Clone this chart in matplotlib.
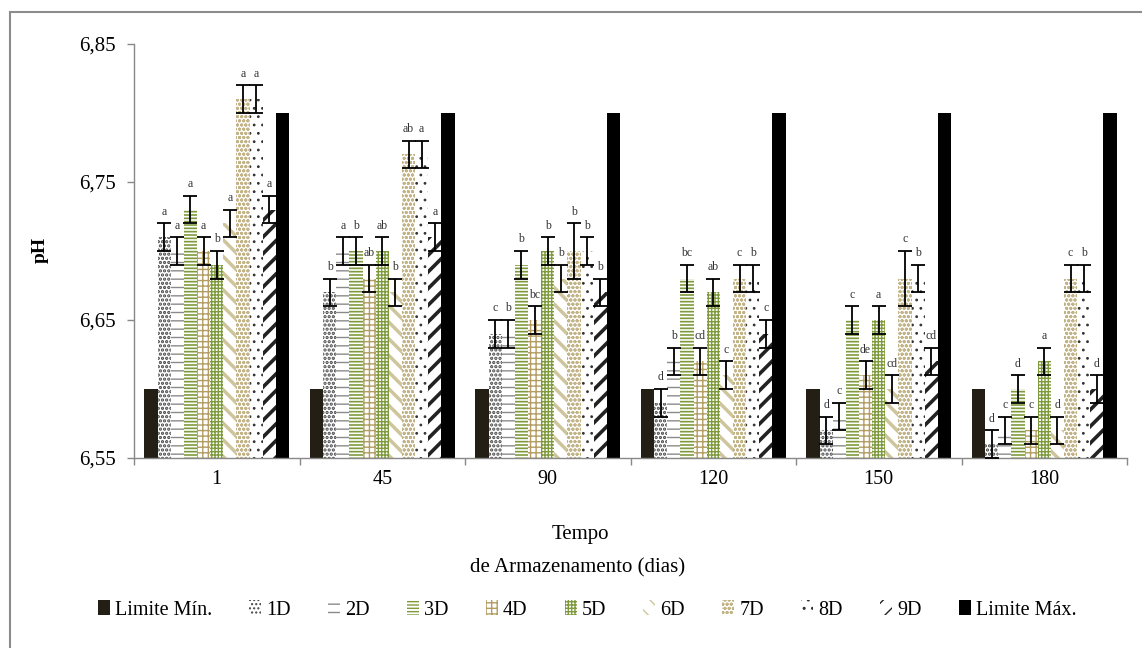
import matplotlib
matplotlib.use("Agg")
import matplotlib.pyplot as plt
import numpy as np
from matplotlib.patches import Rectangle, Patch

plt.rcParams['font.family'] = ['Liberation Serif', 'DejaVu Serif']

categories = ['1', '45', '90', '120', '150', '180']
series_names = ['Limite Mín.', '1D', '2D', '3D', '4D', '5D', '6D', '7D', '8D', '9D', 'Limite Máx.']

lim_min = [6.60, 6.60, 6.60, 6.60, 6.60, 6.60]
d1 = [6.71, 6.67, 6.64, 6.59, 6.57, 6.56]
d2 = [6.70, 6.70, 6.64, 6.62, 6.58, 6.57]
d3 = [6.73, 6.70, 6.69, 6.68, 6.65, 6.60]
d4 = [6.70, 6.68, 6.65, 6.62, 6.61, 6.57]
d5 = [6.69, 6.70, 6.70, 6.67, 6.65, 6.62]
d6 = [6.72, 6.67, 6.68, 6.61, 6.60, 6.57]
d7 = [6.81, 6.77, 6.70, 6.68, 6.68, 6.68]
d8 = [6.81, 6.77, 6.70, 6.68, 6.68, 6.68]
d9 = [6.73, 6.71, 6.67, 6.64, 6.62, 6.60]
lim_max = [6.80, 6.80, 6.80, 6.80, 6.80, 6.80]

e1 = [0.01, 0.01, 0.01, 0.01, 0.01, 0.01]
e2 = [0.01, 0.01, 0.01, 0.01, 0.01, 0.01]
e3 = [0.01, 0.01, 0.01, 0.01, 0.01, 0.01]
e4 = [0.01, 0.01, 0.01, 0.01, 0.01, 0.01]
e5 = [0.01, 0.01, 0.01, 0.01, 0.01, 0.01]
e6 = [0.01, 0.01, 0.01, 0.01, 0.01, 0.01]
e7 = [0.01, 0.01, 0.02, 0.01, 0.02, 0.01]
e8 = [0.01, 0.01, 0.01, 0.01, 0.01, 0.01]
e9 = [0.01, 0.01, 0.01, 0.01, 0.01, 0.01]

l1 = ['a', 'b', 'c', 'd', 'd', 'd']
l2 = ['a', 'a', 'b', 'b', 'c', 'c']
l3 = ['a', 'b', 'b', 'bc', 'c', 'd']
l4 = ['a', 'ab', 'bc', 'cd', 'de', 'c']
l5 = ['b', 'ab', 'b', 'ab', 'a', 'a']
l6 = ['a', 'b', 'b', 'c', 'cd', 'd']
l7 = ['a', 'ab', 'b', 'c', 'c', 'c']
l8 = ['a', 'a', 'b', 'b', 'b', 'b']
l9 = ['a', 'a', 'b', 'c', 'cd', 'd']

values = [lim_min, d1, d2, d3, d4, d5, d6, d7, d8, d9, lim_max]
errors = [None, e1, e2, e3, e4, e5, e6, e7, e8, e9, None]
letters = [None, l1, l2, l3, l4, l5, l6, l7, l8, l9, None]

# style: (facecolor, hatch, hatchcolor, hatch linewidth)
styles = [
    ('#231f14', None, '#231f14', 1.0),
    ('white', '....', '#444444', 1.6),
    ('white', '--', '#8a8a8a', 1.0),
    ('white', '-----', '#7f9a3d', 1.2),
    ('white', '+++', '#b39d62', 1.0),
    ('white', '+++++', '#7f9a3d', 1.0),
    ('white', '\\\\', '#cfc59c', 2.5),
    ('white', 'oooo', '#c2b487', 1.0),
    ('white', '..', '#333333', 0.8),
    ('white', '//', '#222222', 2.6),
    ('#000000', None, '#000000', 1.0),
]

W, H = 1142, 648
fig = plt.figure(figsize=(W / 100, H / 100), dpi=100)
ax = fig.add_axes([134 / W, 1 - 458 / H, (1127 - 134) / W, (458 - 44) / H])

x = np.arange(len(categories))
nb = len(series_names)
bw = 0.0795
offs = (np.arange(nb) - (nb - 1) / 2) * bw

base = 6.55
handles = []
for i in range(nb):
    fc, hatch, hc, hlw = styles[i]
    vals = np.array(values[i])
    bars = ax.bar(x + offs[i], vals - base, bw, bottom=base, color=fc,
                  edgecolor=hc, linewidth=0, hatch=hatch, zorder=2)
    for p in bars.patches:
        try:
            p.set_hatch_linewidth(hlw)
        except Exception:
            pass
    if errors[i] is not None:
        ax.errorbar(x + offs[i], vals, yerr=errors[i], fmt='none', ecolor='black',
                    elinewidth=1.3, capsize=5, capthick=1.3, zorder=3, clip_on=False)
        for j in range(len(categories)):
            ax.text(x[j] + offs[i], vals[j] + errors[i][j] + 0.004, letters[i][j],
                    ha='center', va='bottom', fontsize=8.5, color='#333333', zorder=4)
    h = Patch(facecolor=fc, edgecolor=hc, linewidth=0, hatch=hatch)
    try:
        h.set_hatch_linewidth(hlw)
    except Exception:
        pass
    handles.append(h)

ax.set_ylim(6.55, 6.85)
ax.set_xlim(-0.5, len(categories) - 0.5)
ax.set_yticks([6.55, 6.65, 6.75, 6.85])
ax.set_yticklabels(['6,55', '6,65', '6,75', '6,85'], fontsize=15)
ax.set_xticks(x)
ax.set_xticklabels(categories, fontsize=14.5)
ax.set_xticks(np.arange(len(categories) + 1) - 0.5, minor=True)
ax.tick_params(axis='x', which='major', length=0, pad=9)
ax.tick_params(axis='x', which='minor', length=5, color='#888888', width=1)
ax.tick_params(axis='y', length=5, color='#888888', width=1, pad=8)
for s in ['top', 'right']:
    ax.spines[s].set_visible(False)
for s in ['left', 'bottom']:
    ax.spines[s].set_color('#888888')
    ax.spines[s].set_linewidth(1.0)

fig.text(40 / W, 1 - 250 / H, 'pH', rotation=90, ha='center', va='center',
         fontsize=14, fontweight='bold')
fig.text(580 / W, 1 - 535 / H, 'Tempo', ha='center', va='center', fontsize=15)
fig.text(578 / W, 1 - 568 / H, 'de Armazenamento (dias)', ha='center', va='center', fontsize=15)

fig.legend(handles, series_names, loc='center', bbox_to_anchor=(587 / W, 1 - 610 / H),
           ncol=11, frameon=False, fontsize=14.5, handlelength=0.6, handleheight=0.7,
           handletextpad=0.25, columnspacing=1.85, borderaxespad=0)

fig.patches.append(Rectangle((10 / W, -0.1), 1.2, 1 - 12 / H + 0.1, transform=fig.transFigure,
                             fill=False, edgecolor='#8c8c8c', linewidth=1.5, zorder=0))

fig.savefig('out.png', dpi=100)
